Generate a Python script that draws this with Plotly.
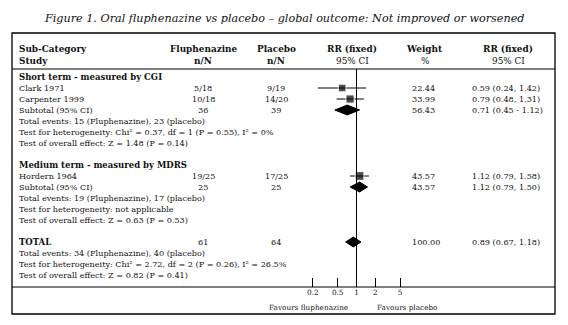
import math
import plotly.graph_objects as go

# ---------------- data ----------------
title = "Figure 1. Oral fluphenazine vs placebo \u2013 global outcome: Not improved or worsened"

group_names = ["Short term - measured by CGI", "Medium term - measured by MDRS"]
group_studies = [["Clark 1971", "Carpenter 1999"], ["Hordern 1964"]]
group_flu_nN = [["5/18", "10/18"], ["19/25"]]
group_pla_nN = [["9/19", "14/20"], ["17/25"]]
group_rr = [[0.59, 0.79], [1.12]]
group_lo = [[0.24, 0.48], [0.79]]
group_hi = [[1.42, 1.31], [1.58]]
group_weight = [["22.44", "33.99"], ["43.57"]]
group_weight_val = [[22.44, 33.99], [43.57]]
group_rr_text = [["0.59 (0.24, 1.42)", "0.79 (0.48, 1.31)"], ["1.12 (0.79, 1.58)"]]

sub_flu_N = ["36", "25"]
sub_pla_N = ["39", "25"]
sub_rr = [0.71, 1.12]
sub_lo = [0.45, 0.79]
sub_hi = [1.12, 1.50]
sub_weight = ["56.43", "43.57"]
sub_rr_text = ["0.71 (0.45 - 1.12)", "1.12 (0.79, 1.50)"]
sub_notes = [
    ["Total events: 15 (Fluphenazine), 23 (placebo)",
     "Test for heterogeneity: Chi\u00b2 = 0.37, df = 1 (P = 0.55), I\u00b2 = 0%",
     "Test of overall effect: Z = 1.48 (P = 0.14)"],
    ["Total events: 19 (Fluphenazine), 17 (placebo)",
     "Test for heterogeneity: not applicable",
     "Test of overall effect: Z = 0.63 (P = 0.53)"],
]

total_flu_N = "61"
total_pla_N = "64"
total_rr = 0.89
total_lo = 0.67
total_hi = 1.18
total_weight = "100.00"
total_rr_text = "0.89 (0.67, 1.18)"
total_notes = ["Total events: 34 (Fluphenazine), 40 (placebo)",
               "Test for heterogeneity: Chi\u00b2 = 2.72, df = 2 (P = 0.26), I\u00b2 = 26.5%",
               "Test of overall effect: Z = 0.82 (P = 0.41)"]

tick_vals = [0.2, 0.5, 1, 2, 5]
tick_text = ["0.2", "0.5", "1", "2", "5"]
favours_left = "Favours fluphenazine"
favours_right = "Favours placebo"

# ---------------- layout helpers ----------------
W, H = 568, 325
BOX_L, BOX_R, BOX_T, BOX_B = 12, 555, 33, 314
ROW_STEP = 11.0
ROW0_PX = 77.0
FONT = "DejaVu Serif"
FS = 8.1
FS_HEAD = 8.9
FS_GROUP = 8.5
FS_SMALL = 7.3
INK = "#111111"

def px_x(px):
    return (px - BOX_L) / (BOX_R - BOX_L)

def px_row(py):
    return (py - ROW0_PX) / ROW_STEP

y_top = px_row(BOX_T)
y_bot = px_row(BOX_B)

# forest axis mapping: x_px = CENTER + SCALE*log10(v)
CENTER, SCALE = 356.5, 62.5
dom_l, dom_r = 296.0, 416.0
x_range = [(dom_l - CENTER) / SCALE, (dom_r - CENTER) / SCALE]

COL_STUDY = 17
COL_FLU = 203
COL_PLA = 276
COL_RRH = 352
COL_WH = 425
COL_W = 410
COL_RR = 470
COL_RRH2 = 508

fig = go.Figure()
ann = []

def text(px, row, s, anchor="left", bold=False, size=FS, yref="y"):
    ann.append(dict(x=px_x(px), xref="paper", y=row, yref=yref, text=("<b>%s</b>" % s) if bold else s,
                    showarrow=False, xanchor=anchor, yanchor="middle",
                    font=dict(family=FONT, size=size, color=INK)))

def diamond(row, est, lo, hi):
    h = 0.45
    fig.add_trace(go.Scatter(x=[lo, est, hi, est, lo], y=[row, row - h, row, row + h, row],
                             mode="lines", fill="toself", fillcolor="#000000",
                             line=dict(color="#000000", width=1), hoverinfo="skip", showlegend=False))

# header
text(COL_STUDY, px_row(49), "Sub-Category", bold=True, size=FS_HEAD)
text(COL_STUDY, px_row(61), "Study", bold=True, size=FS_HEAD)
text(COL_FLU, px_row(49), "Fluphenazine", anchor="center", bold=True, size=FS_HEAD)
text(COL_FLU, px_row(61), "n/N", anchor="center", bold=True, size=FS_HEAD)
text(COL_PLA, px_row(49), "Placebo", anchor="center", bold=True, size=FS_HEAD)
text(COL_PLA, px_row(61), "n/N", anchor="center", bold=True, size=FS_HEAD)
text(COL_RRH, px_row(49), "RR (fixed)", anchor="center", bold=True, size=FS_HEAD)
text(COL_RRH, px_row(61), "95% CI", anchor="center", size=FS_HEAD)
text(COL_WH, px_row(49), "Weight", anchor="center", bold=True, size=FS_HEAD)
text(COL_WH, px_row(61), "%", anchor="center", size=FS_HEAD)
text(COL_RRH2, px_row(49), "RR (fixed)", anchor="center", bold=True, size=FS_HEAD)
text(COL_RRH2, px_row(61), "95% CI", anchor="center", size=FS_HEAD)

sq_x, sq_y, sq_s = [], [], []
row = 0
for g in range(len(group_names)):
    text(COL_STUDY, row, group_names[g], bold=True, size=FS_GROUP)
    row += 1
    for i, st in enumerate(group_studies[g]):
        text(COL_STUDY, row, st)
        text(COL_FLU, row, group_flu_nN[g][i], anchor="center")
        text(COL_PLA, row, group_pla_nN[g][i], anchor="center")
        text(COL_W, row, group_weight[g][i])
        text(COL_RR, row, group_rr_text[g][i])
        fig.add_trace(go.Scatter(x=[group_lo[g][i], group_hi[g][i]], y=[row, row], mode="lines",
                                 line=dict(color="#000000", width=1), hoverinfo="skip", showlegend=False))
        sq_x.append(group_rr[g][i]); sq_y.append(row)
        sq_s.append(6.5 + 0.05 * group_weight_val[g][i])
        row += 1
    text(COL_STUDY, row, "Subtotal (95% CI)")
    text(COL_FLU, row, sub_flu_N[g], anchor="center")
    text(COL_PLA, row, sub_pla_N[g], anchor="center")
    text(COL_W, row, sub_weight[g])
    text(COL_RR, row, sub_rr_text[g])
    diamond(row, sub_rr[g], sub_lo[g], sub_hi[g])
    row += 1
    for note in sub_notes[g]:
        text(COL_STUDY, row, note)
        row += 1
    row += 1

text(COL_STUDY, row, "TOTAL", bold=True, size=FS_GROUP)
text(COL_FLU, row, total_flu_N, anchor="center")
text(COL_PLA, row, total_pla_N, anchor="center")
text(COL_W, row, total_weight)
text(COL_RR, row, total_rr_text)
diamond(row, total_rr, total_lo, total_hi)
row += 1
for note in total_notes:
    text(COL_STUDY, row, note)
    row += 1

fig.add_trace(go.Scatter(x=sq_x, y=sq_y, mode="markers",
                         marker=dict(symbol="square", size=sq_s, color="#000000"),
                         hoverinfo="skip", showlegend=False))

axis_row = px_row(287)
header_line_row = px_row(69)
# vertical line of no effect
fig.add_trace(go.Scatter(x=[1, 1], y=[header_line_row, axis_row], mode="lines",
                         line=dict(color="#000000", width=1), hoverinfo="skip", showlegend=False))

text(350, px_row(307), favours_left, anchor="right", size=FS_SMALL)
text(375, px_row(307), favours_right, anchor="left", size=FS_SMALL)

ann.append(dict(x=0.5, xref="paper", y=(BOX_B - 18) / (BOX_B - BOX_T), yref="paper",
                text="<i>%s</i>" % title, showarrow=False, xanchor="center", yanchor="middle",
                font=dict(family=FONT, size=11.2, color=INK)))

shapes = [
    dict(type="rect", xref="paper", yref="paper", x0=0, x1=1, y0=0, y1=1,
         line=dict(color="#000000", width=1.3)),
    dict(type="line", xref="paper", yref="y", x0=0, x1=1, y0=header_line_row, y1=header_line_row,
         line=dict(color="#000000", width=1)),
    dict(type="line", xref="paper", yref="y", x0=0, x1=1, y0=axis_row, y1=axis_row,
         line=dict(color="#000000", width=1)),
]

fig.update_layout(
    width=W, height=H,
    margin=dict(l=BOX_L, r=W - BOX_R, t=BOX_T, b=H - BOX_B, pad=0),
    paper_bgcolor="white", plot_bgcolor="white",
    showlegend=False,
    annotations=ann, shapes=shapes,
    xaxis=dict(type="log", range=x_range, domain=[px_x(dom_l), px_x(dom_r)],
               anchor="free", position=(BOX_B - 287) / (BOX_B - BOX_T),
               showgrid=False, zeroline=False, showline=False,
               tickvals=tick_vals, ticktext=tick_text, ticks="inside", ticklen=9,
               tickcolor="#000000", tickwidth=1,
               tickfont=dict(family=FONT, size=FS_SMALL, color=INK)),
    yaxis=dict(range=[y_bot, y_top], visible=False, showgrid=False, zeroline=False),
)

fig.write_html("out.html", config={"displayModeBar": False},
               post_script="document.body.style.margin='0';document.body.style.overflow='hidden';")
